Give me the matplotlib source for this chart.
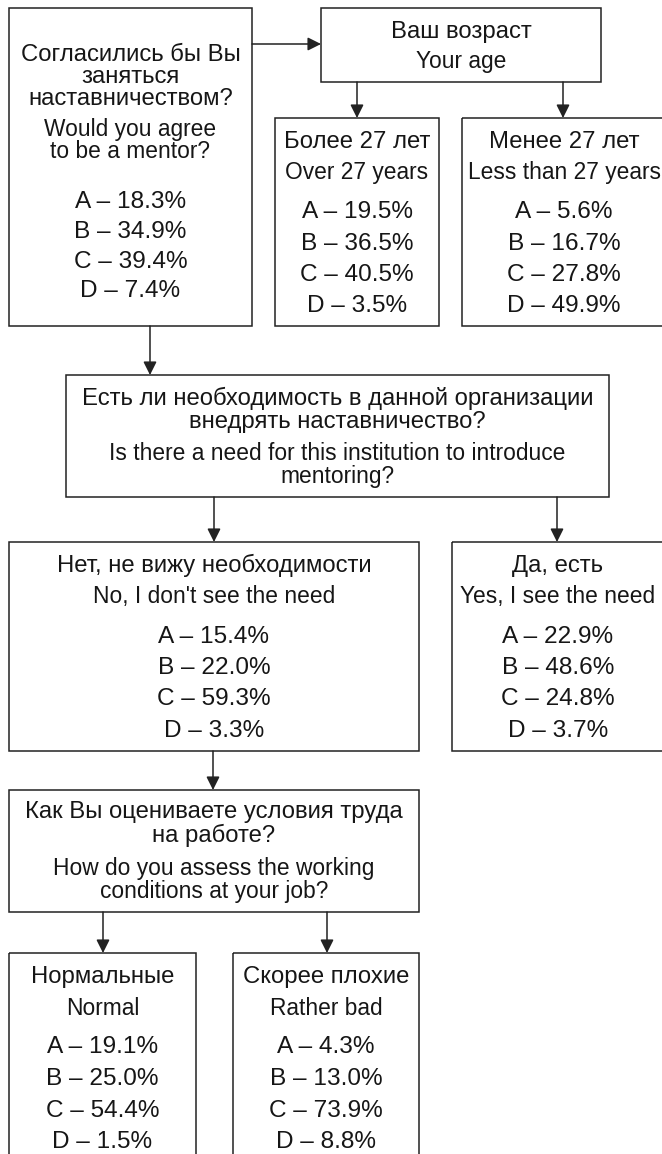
import matplotlib
matplotlib.use("Agg")
import matplotlib.pyplot as plt
from matplotlib.patches import Rectangle

plt.rcParams['font.family'] = ['Liberation Sans', 'DejaVu Sans']

# ---- data ----
options = ['A', 'B', 'C', 'D']

q1_ru = ["Согласились бы Вы", "заняться", "наставничеством?"]
q1_en = ["Would you agree", "to be a mentor?"]
agree_mentor = [18.3, 34.9, 39.4, 7.4]

age_ru = ["Ваш возраст"]
age_en = ["Your age"]
over27_ru = ["Более 27 лет"]
over27_en = ["Over 27 years"]
over27 = [19.5, 36.5, 40.5, 3.5]
under27_ru = ["Менее 27 лет"]
under27_en = ["Less than 27 years"]
under27 = [5.6, 16.7, 27.8, 49.9]

q2_ru = ["Есть ли необходимость в данной организации", "внедрять наставничество?"]
q2_en = ["Is there a need for this institution to introduce", "mentoring?"]
no_need_ru = ["Нет, не вижу необходимости"]
no_need_en = ["No, I don't see the need"]
no_need = [15.4, 22.0, 59.3, 3.3]
yes_need_ru = ["Да, есть"]
yes_need_en = ["Yes, I see the need"]
yes_need = [22.9, 48.6, 24.8, 3.7]

q3_ru = ["Как Вы оцениваете условия труда", "на работе?"]
q3_en = ["How do you assess the working", "conditions at your job?"]
normal_ru = ["Нормальные"]
normal_en = ["Normal"]
normal = [19.1, 25.0, 54.4, 1.5]
bad_ru = ["Скорее плохие"]
bad_en = ["Rather bad"]
rather_bad = [4.3, 13.0, 73.9, 8.8]

# ---- drawing ----
W, H = 662, 1154
fig = plt.figure(figsize=(W / 100, H / 100), dpi=100)
ax = fig.add_axes([0, 0, 1, 1])
ax.set_xlim(0, W)
ax.set_ylim(H, 0)
ax.axis('off')

EDGE = '#222222'
TXT = '#161616'
RU_FS = 17.2
EN_FS = 16.4
VAL_FS = 17.6


def box(x0, y0, x1, y1):
    ax.add_patch(Rectangle((x0, y0), x1 - x0, y1 - y0, fill=False,
                           edgecolor=EDGE, lw=1.1, clip_on=False))


def lines(cx, ys, texts, fs):
    for y, t in zip(ys, texts):
        ax.text(cx, y, t, ha='center', va='baseline', fontsize=fs, color=TXT)


def values(cx, ys, vals):
    for y, o, v in zip(ys, options, vals):
        ax.text(cx, y, f"{o} \u2013 {v:.1f}%", ha='center', va='baseline',
                fontsize=VAL_FS, color=TXT)


def arrow(x0, y0, x1, y1):
    ax.annotate('', xy=(x1, y1), xytext=(x0, y0),
                arrowprops=dict(arrowstyle='-|>', color=EDGE, lw=1.1,
                                mutation_scale=20, shrinkA=0, shrinkB=0))


# Q1
box(9, 8, 252, 326)
lines(130.5, [61, 83, 105], q1_ru, RU_FS)
lines(130.5, [136, 158], q1_en, EN_FS)
values(130.5, [208, 238, 268, 297], agree_mentor)

# Age
box(321, 8, 601, 82)
lines(461, [38], age_ru, RU_FS)
lines(461, [68], age_en, EN_FS)

box(275, 118, 439, 326)
lines(357, [148], over27_ru, RU_FS)
lines(357, [179], over27_en, EN_FS)
values(357, [218, 250, 281, 312], over27)

box(462, 118, 672, 326)
lines(564, [148], under27_ru, RU_FS)
lines(564, [179], under27_en, EN_FS)
values(564, [218, 250, 281, 312], under27)

# Q2
box(66, 375, 609, 497)
lines(337.5, [405, 428], q2_ru, RU_FS)
lines(337.5, [460, 483], q2_en, EN_FS)

box(9, 542, 419, 751)
lines(214, [572], no_need_ru, RU_FS)
lines(214, [603], no_need_en, EN_FS)
values(214, [643, 674, 705, 737], no_need)

box(452, 542, 672, 751)
lines(558, [572], yes_need_ru, RU_FS)
lines(558, [603], yes_need_en, EN_FS)
values(558, [643, 674, 705, 737], yes_need)

# Q3
box(9, 790, 419, 912)
lines(214, [818, 842], q3_ru, RU_FS)
lines(214, [875, 898], q3_en, EN_FS)

box(9, 953, 196, 1175)
lines(102.5, [983], normal_ru, RU_FS)
lines(102.5, [1015], normal_en, EN_FS)
values(102.5, [1053, 1085, 1117, 1148], normal)

box(233, 953, 419, 1175)
lines(326, [983], bad_ru, RU_FS)
lines(326, [1015], bad_en, EN_FS)
values(326, [1053, 1085, 1117, 1148], rather_bad)

# arrows
arrow(252, 44, 321, 44)
arrow(357, 82, 357, 118)
arrow(563, 82, 563, 118)
arrow(150, 326, 150, 375)
arrow(214, 497, 214, 542)
arrow(557, 497, 557, 542)
arrow(213, 751, 213, 790)
arrow(103, 912, 103, 953)
arrow(327, 912, 327, 953)

fig.savefig('out.png', dpi=100)
